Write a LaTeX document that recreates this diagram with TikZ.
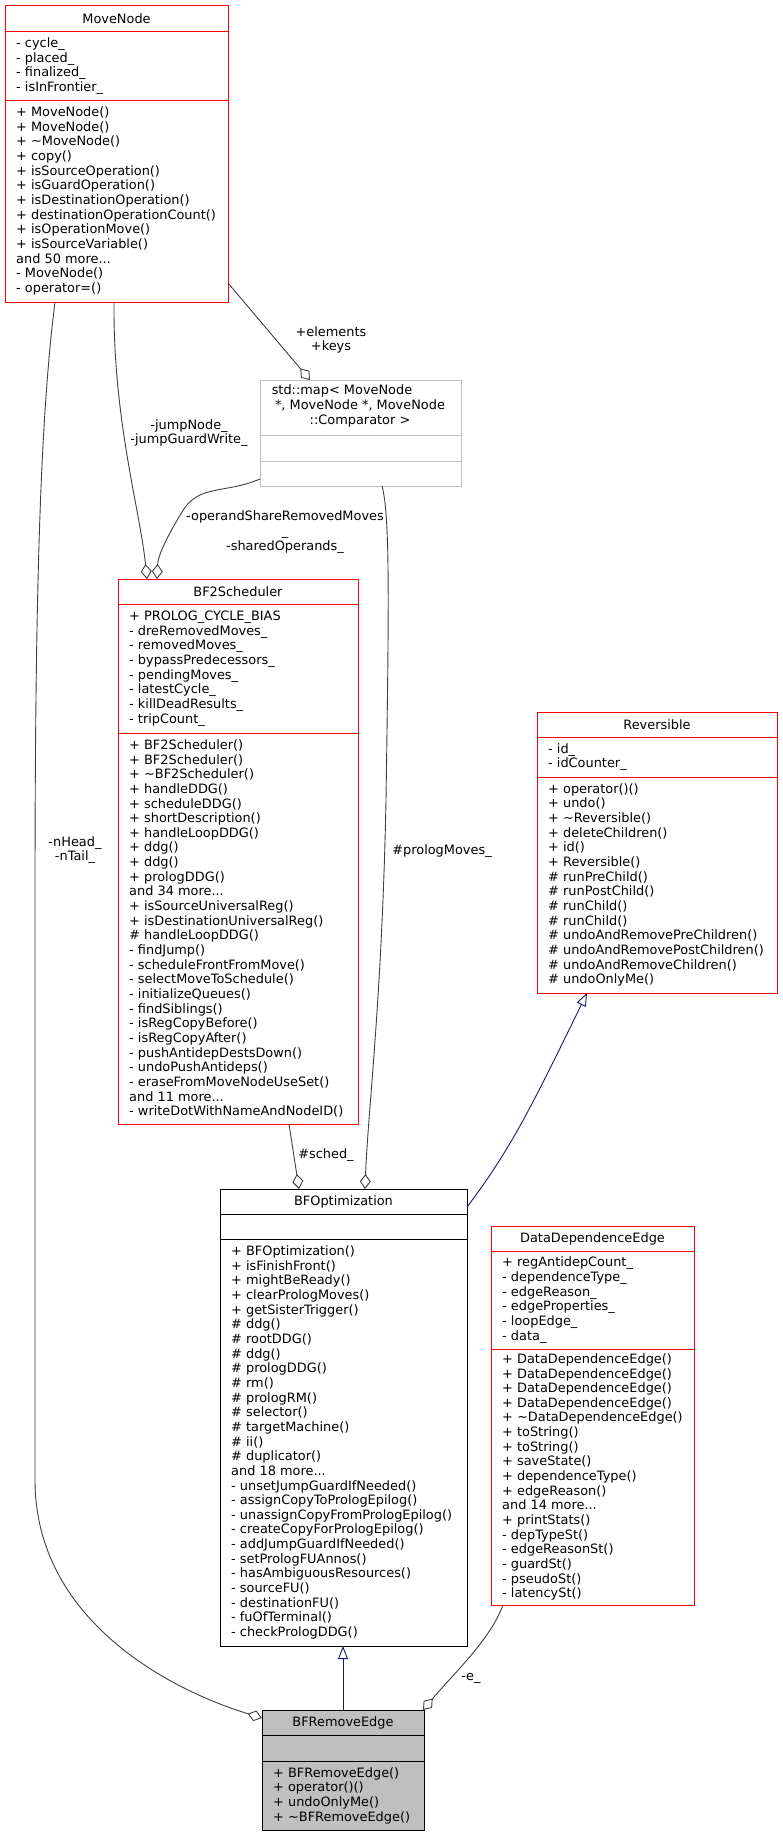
\documentclass[tikz,border=0pt]{standalone}
\usepackage{fontspec}
\setmainfont{DejaVu Sans}
\usetikzlibrary{arrows.meta}
\definecolor{edgegray}{HTML}{404040}
\definecolor{midnight}{HTML}{191970}
\definecolor{mapgray}{HTML}{BFBFBF}
\newcommand{\classfont}{\fontsize{12.9}{14.65}\selectfont}

\begin{document}
\begin{tikzpicture}[x=1pt, y=-1pt,
  classbox/.style={draw=red, line width=1pt, inner sep=0pt, outer sep=0pt, anchor=north west, fill=white},
  title/.style={font=\classfont, inner sep=0pt},
  members/.style={font=\classfont, anchor=west, align=left, inner sep=0pt},
  lbl/.style={font=\classfont, align=center, inner sep=0pt},
  member/.style={draw=edgegray, line width=0.9pt, -{Diamond[open, length=15pt, width=11pt]}},
  inherit/.style={draw=midnight, line width=0.9pt, -{Triangle[open, length=13pt, width=10pt]}}]
  \fill[white] (0,0) rectangle (782,1836);
  \useasboundingbox (0,0) rectangle (782,1836);

  % MoveNode
  \node[classbox, minimum width=223pt, minimum height=296pt] (movenode) at (5,6) {};
  \draw[red, line width=1pt] ([yshift=-26pt]movenode.north west) -- ([yshift=-26pt]movenode.north east);
  \draw[red, line width=1pt] ([yshift=-94pt]movenode.north west) -- ([yshift=-94pt]movenode.north east);
  \node[title] (movenode-title) at ([yshift=-13pt]movenode.north) {MoveNode};
  \node[members] (movenode-attr) at (16,66) {- cycle\_\\- placed\_\\- finalized\_\\- isInFrontier\_};
  \node[members] (movenode-meth) at (16,201) {+ MoveNode()\\+ MoveNode()\\+ \textasciitilde MoveNode()\\+ copy()\\+ isSourceOperation()\\+ isGuardOperation()\\+ isDestinationOperation()\\+ destinationOperationCount()\\+ isOperationMove()\\+ isSourceVariable()\\and 50 more...\\- MoveNode()\\- operator=()};

  % std::map
  \node[classbox, draw=mapgray, minimum width=201pt, minimum height=106pt] (stdmap) at (260,380) {};
  \draw[mapgray, line width=1pt] ([yshift=-55pt]stdmap.north west) -- ([yshift=-55pt]stdmap.north east);
  \draw[mapgray, line width=1pt] ([yshift=-81pt]stdmap.north west) -- ([yshift=-81pt]stdmap.north east);
  \node[lbl] (stdmap-title) at (360,406) {std::map< MoveNode\hspace*{36pt}\\ *, MoveNode *, MoveNode\\::Comparator >};

  % BF2Scheduler
  \node[classbox, minimum width=240pt, minimum height=545pt] (bfsched) at (118,579) {};
  \draw[red, line width=1pt] ([yshift=-25pt]bfsched.north west) -- ([yshift=-25pt]bfsched.north east);
  \draw[red, line width=1pt] ([yshift=-154pt]bfsched.north west) -- ([yshift=-154pt]bfsched.north east);
  \node[title] (bfsched-title) at ([yshift=-12.5pt]bfsched.north) {BF2Scheduler};
  \node[members] (bfsched-attr) at (129,668.5) {+ PROLOG\_CYCLE\_BIAS\\- dreRemovedMoves\_\\- removedMoves\_\\- bypassPredecessors\_\\- pendingMoves\_\\- latestCycle\_\\- killDeadResults\_\\- tripCount\_};
  \node[members] (bfsched-meth) at (129,928.5) {+ BF2Scheduler()\\+ BF2Scheduler()\\+ \textasciitilde BF2Scheduler()\\+ handleDDG()\\+ scheduleDDG()\\+ shortDescription()\\+ handleLoopDDG()\\+ ddg()\\+ ddg()\\+ prologDDG()\\and 34 more...\\+ isSourceUniversalReg()\\+ isDestinationUniversalReg()\\\# handleLoopDDG()\\- findJump()\\- scheduleFrontFromMove()\\- selectMoveToSchedule()\\- initializeQueues()\\- findSiblings()\\- isRegCopyBefore()\\- isRegCopyAfter()\\- pushAntidepDestsDown()\\- undoPushAntideps()\\- eraseFromMoveNodeUseSet()\\and 11 more...\\- writeDotWithNameAndNodeID()};

  % Reversible
  \node[classbox, minimum width=240pt, minimum height=281pt] (reversible) at (537,712) {};
  \draw[red, line width=1pt] ([yshift=-25pt]reversible.north west) -- ([yshift=-25pt]reversible.north east);
  \draw[red, line width=1pt] ([yshift=-65pt]reversible.north west) -- ([yshift=-65pt]reversible.north east);
  \node[title] (reversible-title) at ([yshift=-12.5pt]reversible.north) {Reversible};
  \node[members] (reversible-attr) at (548,757) {- id\_\\- idCounter\_};
  \node[members] (reversible-meth) at (548,885) {+ operator()()\\+ undo()\\+ \textasciitilde Reversible()\\+ deleteChildren()\\+ id()\\+ Reversible()\\\# runPreChild()\\\# runPostChild()\\\# runChild()\\\# runChild()\\\# undoAndRemovePreChildren()\\\# undoAndRemovePostChildren()\\\# undoAndRemoveChildren()\\\# undoOnlyMe()};

  % BFOptimization
  \node[classbox, draw=black, minimum width=247pt, minimum height=457pt] (bfopt) at (220,1189) {};
  \draw[black, line width=1pt] ([yshift=-25pt]bfopt.north west) -- ([yshift=-25pt]bfopt.north east);
  \draw[black, line width=1pt] ([yshift=-50pt]bfopt.north west) -- ([yshift=-50pt]bfopt.north east);
  \node[title] (bfopt-title) at ([yshift=-12.5pt]bfopt.north) {BFOptimization};
  \node[members] (bfopt-meth) at (231,1442.5) {+ BFOptimization()\\+ isFinishFront()\\+ mightBeReady()\\+ clearPrologMoves()\\+ getSisterTrigger()\\\# ddg()\\\# rootDDG()\\\# ddg()\\\# prologDDG()\\\# rm()\\\# prologRM()\\\# selector()\\\# targetMachine()\\\# ii()\\\# duplicator()\\and 18 more...\\- unsetJumpGuardIfNeeded()\\- assignCopyToPrologEpilog()\\- unassignCopyFromPrologEpilog()\\- createCopyForPrologEpilog()\\- addJumpGuardIfNeeded()\\- setPrologFUAnnos()\\- hasAmbiguousResources()\\- sourceFU()\\- destinationFU()\\- fuOfTerminal()\\- checkPrologDDG()};

  % DataDependenceEdge
  \node[classbox, minimum width=203pt, minimum height=379pt] (ddedge) at (491,1226) {};
  \draw[red, line width=1pt] ([yshift=-25pt]ddedge.north west) -- ([yshift=-25pt]ddedge.north east);
  \draw[red, line width=1pt] ([yshift=-123pt]ddedge.north west) -- ([yshift=-123pt]ddedge.north east);
  \node[title] (ddedge-title) at ([yshift=-12.5pt]ddedge.north) {DataDependenceEdge};
  \node[members] (ddedge-attr) at (502,1300) {+ regAntidepCount\_\\- dependenceType\_\\- edgeReason\_\\- edgeProperties\_\\- loopEdge\_\\- data\_};
  \node[members] (ddedge-meth) at (502,1477) {+ DataDependenceEdge()\\+ DataDependenceEdge()\\+ DataDependenceEdge()\\+ DataDependenceEdge()\\+ \textasciitilde DataDependenceEdge()\\+ toString()\\+ toString()\\+ saveState()\\+ dependenceType()\\+ edgeReason()\\and 14 more...\\+ printStats()\\- depTypeSt()\\- edgeReasonSt()\\- guardSt()\\- pseudoSt()\\- latencySt()};

  % BFRemoveEdge
  \node[classbox, draw=black, fill=mapgray, minimum width=162pt, minimum height=120pt] (bfremove) at (262,1710) {};
  \draw[black, line width=1pt] ([yshift=-25pt]bfremove.north west) -- ([yshift=-25pt]bfremove.north east);
  \draw[black, line width=1pt] ([yshift=-51pt]bfremove.north west) -- ([yshift=-51pt]bfremove.north east);
  \node[title] (bfremove-title) at ([yshift=-12.5pt]bfremove.north) {BFRemoveEdge};
  \node[members] (bfremove-meth) at (273,1795.5) {+ BFRemoveEdge()\\+ operator()()\\+ undoOnlyMe()\\+ \textasciitilde BFRemoveEdge()};

  % associations
  \draw[member] ([yshift=-129pt]movenode.east) -- ([xshift=50pt]stdmap.north west);
  \node[lbl] (lbl-elements) at (331,340) {+elements\\+keys};
  \draw[member] ([xshift=109pt]movenode.south west) .. controls (113,420) and (140,510) .. ([xshift=29pt]bfsched.north west);
  \node[lbl] (lbl-jump) at (189,433) {-jumpNode\_\\-jumpGuardWrite\_};
  \draw[member] ([yshift=7pt]stdmap.south west) .. controls (225,494) and (198,484) .. (182,512) .. controls (168,535) and (158,555) .. ([xshift=39pt]bfsched.north west);
  \node[lbl] (lbl-operands) at (285,532) {-operandShareRemovedMoves\\\_\\-sharedOperands\_};
  \draw[member] ([xshift=122pt]stdmap.south west) .. controls (390,515) and (389,600) .. (386,800) .. controls (382,1000) and (368,1110) .. ([xshift=145pt]bfopt.north west);
  \node[lbl] (lbl-prolog) at (442,851) {\#prologMoves\_};
  \draw[member] ([xshift=171pt]bfsched.south west) -- ([xshift=79pt]bfopt.north west);
  \node[lbl] (lbl-sched) at (326,1155) {\#sched\_};
  \draw[member] ([xshift=50pt]movenode.south west) .. controls (40,420) and (35,600) .. (35,900) -- (35,1480) .. controls (35,1620) and (170,1690) .. ([yshift=-8pt]bfremove.north west);
  \node[lbl] (lbl-nhead) at (75,850) {-nHead\_\\-nTail\_};
  \draw[member] ([xshift=12pt]ddedge.south west) .. controls (490,1640) and (455,1672) .. ([xshift=-1pt]bfremove.north east);
  \node[lbl] (lbl-e) at (471,1678) {-e\_};

  % inheritance
  \draw[inherit] ([xshift=81pt]bfremove.north west) -- ([xshift=81pt]bfremove.north west |- bfopt.south);
  \draw[inherit] ([yshift=-18pt]bfopt.north east) .. controls (510,1150) and (530,1110) .. ([xshift=50pt]reversible.south west);
\end{tikzpicture}
\end{document}
